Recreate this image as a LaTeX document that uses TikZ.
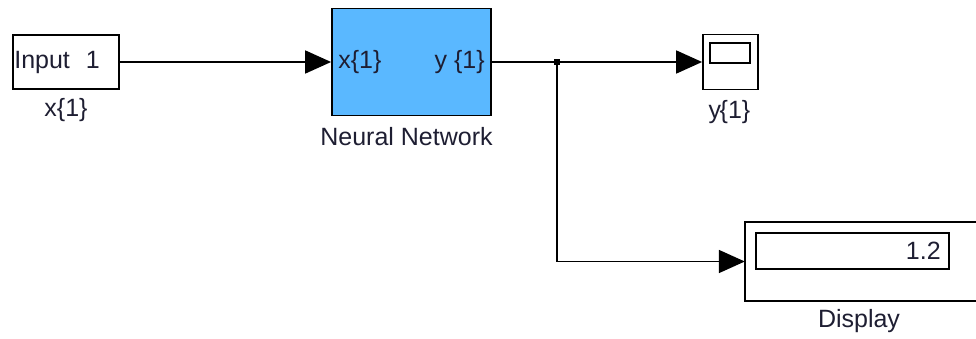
\documentclass[tikz,border=0pt]{standalone}
\usepackage{fontspec}
\setmainfont{Liberation Sans}
\usetikzlibrary{arrows.meta}
\definecolor{nnblue}{RGB}{90,184,255}
\definecolor{labelink}{RGB}{30,30,50}
\tikzset{
  blk/.style={draw=black, line width=1.8pt, inner sep=0pt},
  lbl/.style={font=\fontsize{25}{28}\selectfont, text=labelink, inner sep=0pt},
  wire/.style={line width=1.8pt, -{Triangle[length=26pt,width=23pt]}},
}
\begin{document}
\begin{tikzpicture}[x=1pt,y=-1pt]
\useasboundingbox (0,0) rectangle (976,339);

% source block
\node[blk, minimum width=106pt, minimum height=54pt] (in) at (66,62) {};
\node[lbl, anchor=west] (intext) at ([xshift=2pt]in.west) {Input\hspace{16pt}1};
\node[lbl] (inlabel) at (66,110) {x\{1\}};

% neural network subsystem
\node[blk, fill=nnblue, minimum width=159pt, minimum height=107pt] (nn) at (411.5,62) {};
\node[lbl, anchor=west] (nnin) at ([xshift=7pt]nn.west) {x\{1\}};
\node[lbl, anchor=east] (nnout) at ([xshift=-7pt]nn.east) {y \{1\}};
\node[lbl] (nnlabel) at (406.5,136.5) {Neural Network};

% scope
\node[blk, minimum width=55pt, minimum height=55pt] (scope) at (730.5,62) {};
\node[blk, minimum width=40pt, minimum height=20pt] (screen) at (730,53) {};
\node[lbl] (scopelabel) at (729.5,112) {y\kern-1.5pt\{1\}};

% display (right side runs past the edge)
\node[minimum width=234pt, minimum height=79pt, inner sep=0pt] (disp) at (862,261.5) {};
\draw[line width=1.8pt] (disp.north east) -- (disp.north west) -- (disp.south west) -- (disp.south east);
\node[blk, minimum width=193pt, minimum height=36pt] (dispval) at (852.5,251) {};
\node[lbl, anchor=east] (dispnum) at ([xshift=-9pt]dispval.east) {1.2};
\node[lbl] (displabel) at (859,321.5) {Display};

% signal lines
\coordinate (branch) at (557,62);
\draw[wire] (in.east) -- (nn.west);
\draw[wire] (nn.east) -- (scope.west);
\draw[wire] (branch) |- (disp.west);
\fill (branch) ++(-3,-3) rectangle ++(6,6);
\end{tikzpicture}
\end{document}
